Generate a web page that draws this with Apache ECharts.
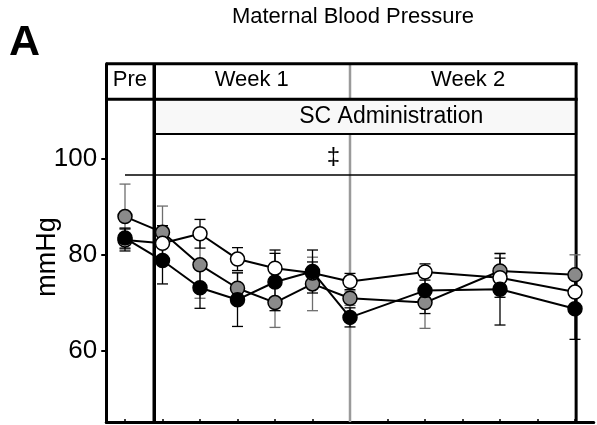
<!DOCTYPE html>
<html><head><meta charset="utf-8">
<script src="https://cdn.jsdelivr.net/npm/echarts@6/dist/echarts.min.js"></script>
<style>html,body{margin:0;padding:0;background:#fff}#c{width:597px;height:425px}</style>
</head><body><div id="c"></div>
<script>
// ---- data ----
const xPos = [0, 1, 2, 3, 4, 5, 6, 8, 10, 12];           // Pre, Week 1 days, Week 2 days
const grayVals  = [88.0, 84.7, 77.9, 73.0, 70.0, 73.9, 70.9, 70.0, 76.6, 75.8];
const grayErr   = [6.8, 5.5, 7.0, 3.3, 5.2, 5.6, 1.5, 5.4, 3.6, 4.2];
const whiteVals = [83.1, 82.4, 84.4, 79.1, 77.2, 76.2, 74.4, 76.4, 75.2, 72.2];
const whiteErr  = [2.3, 3.7, 3.0, 2.4, 3.8, 2.3, 1.7, 1.7, 4.1, 3.0];
const blackVals = [83.5, 78.8, 73.1, 70.6, 74.3, 76.5, 66.9, 72.5, 72.8, 68.7];
const blackErr  = [2.1, 4.9, 4.3, 5.6, 6.0, 4.5, 2.0, 4.8, 7.5, 6.4];
const yTicks = [60, 80, 100];
const xTicks = [0, 1, 2, 3, 4, 5, 6, 7, 8, 9, 10, 11, 12];
const sectionLabels = ['Pre', 'Week 1', 'Week 2'];
const treatmentLabel = 'SC Administration';
const sigMark = '\u2021';
const titleText = 'Maternal Blood Pressure';
const panelLabel = 'A';
const yName = 'mmHg';

// ---- chart ----
const FONT = '"Liberation Sans", Arial, Helvetica, sans-serif';
const chart = echarts.init(document.getElementById('c'), null, {renderer: 'canvas'});

function pts(vals) { return xPos.map((x, i) => [x, vals[i]]); }
function errData(vals, errs) { return xPos.map((x, i) => [x, vals[i] - errs[i], vals[i] + errs[i]]); }

function errSeries(name, vals, errs, color, z) {
  return {
    type: 'custom', name: name + ' SE', data: errData(vals, errs), z: z, clip: false, silent: true,
    encode: {x: 0, y: [1, 2]},
    renderItem(params, api) {
      const x = api.value(0);
      const lo = api.coord([x, api.value(1)]);
      const hi = api.coord([x, api.value(2)]);
      const w = 5.5;
      const st = {stroke: color, lineWidth: 1.3};
      return {type: 'group', children: [
        {type: 'line', shape: {x1: lo[0], y1: lo[1], x2: hi[0], y2: hi[1]}, style: st},
        {type: 'line', shape: {x1: lo[0] - w, y1: lo[1], x2: lo[0] + w, y2: lo[1]}, style: st},
        {type: 'line', shape: {x1: hi[0] - w, y1: hi[1], x2: hi[0] + w, y2: hi[1]}, style: st}
      ]};
    }
  };
}
function lineSeries(name, vals, fill, z) {
  return {
    type: 'line', name: name, data: pts(vals), z: z, symbol: 'circle', symbolSize: 14,
    itemStyle: {color: fill, borderColor: '#000', borderWidth: 1.5, opacity: 1},
    lineStyle: {color: '#000', width: 2}, emphasis: {disabled: true}, clip: false
  };
}

// header frame, in data coordinates
const H = {left: -0.5, preSep: 0.78, weekSep: 6, right: 12.03, top: 120, row1: 112.56, row2: 105.3, sigY: 96.7, sigX0: 0, bottom: 45};

const headerSeries = {
  type: 'custom', name: 'header', data: [[0, 0]], z: 1, clip: false, silent: true,
  renderItem(params, api) {
    const c = (x, y) => api.coord([x, y]);
    const line = (a, b, color, w) => ({type: 'line', shape: {x1: a[0], y1: a[1], x2: b[0], y2: b[1]}, style: {stroke: color, lineWidth: w}});
    const txt = (x, y, s, size) => {
      const p = c(x, y);
      return {type: 'text', x: p[0], y: p[1], style: {text: s, fill: '#000', font: size + 'px ' + FONT, textAlign: 'center', textVerticalAlign: 'middle', align: 'center', verticalAlign: 'middle'}};
    };
    const scTL = c(H.preSep, H.row1), scBR = c(H.right, H.row2);
    return {type: 'group', children: [
      line(c(H.weekSep, H.bottom), c(H.weekSep, H.top), '#9a9a9a', 2.5),
      {type: 'rect', shape: {x: scTL[0], y: scTL[1], width: scBR[0] - scTL[0], height: scBR[1] - scTL[1]}, style: {fill: '#f8f8f8', stroke: '#000', lineWidth: 2}},
      line(c(H.sigX0, H.sigY), c(H.right, H.sigY), '#000', 1.5),
      line(c(H.left, H.top), c(H.right + 0.04, H.top), '#000', 3),
      line(c(H.left, H.row1), c(H.right + 0.04, H.row1), '#000', 3),
      line(c(H.preSep, H.bottom), c(H.preSep, H.top), '#000', 3.5),
      line(c(H.right, H.bottom), c(H.right, H.top), '#000', 3),
      txt(0.13, 116.5, sectionLabels[0], 22),
      txt(3.38, 116.5, sectionLabels[1], 22),
      txt(9.15, 116.5, sectionLabels[2], 22),
      txt(7.1, 108.85, treatmentLabel, 23),
      txt(5.56, 100.3, sigMark, 24)
    ]};
  }
};

const option = {
  animation: false,
  backgroundColor: '#fff',
  title: {text: titleText, left: 348, top: 1, textAlign: 'center',
    textStyle: {fontFamily: FONT, fontSize: 22, fontWeight: 'normal', color: '#000'}},
  graphic: [
    {type: 'text', left: 9, top: 22, style: {text: panelLabel, font: 'bold 43px ' + FONT, fill: '#000'}},
    {type: 'text', x: 48, y: 257, rotation: Math.PI / 2,
      style: {text: yName, font: '27px ' + FONT, fill: '#000', textAlign: 'center', textVerticalAlign: 'middle', align: 'center', verticalAlign: 'middle'}}
  ],
  grid: {left: 106.25, right: 3.25, top: 63.7, bottom: 3, containLabel: false},
  xAxis: {
    type: 'value', min: -0.5, max: 12.5,
    axisLine: {show: true, onZero: false, lineStyle: {color: '#000', width: 3}},
    axisTick: {show: true, inside: true, length: 3, customValues: xTicks, lineStyle: {color: '#000', width: 1.5}},
    axisLabel: {show: false},
    splitLine: {show: false}
  },
  yAxis: {
    type: 'value', min: 45, max: 120,
    axisLine: {show: true, onZero: false, lineStyle: {color: '#000', width: 3}},
    axisTick: {show: true, length: 5, customValues: yTicks, lineStyle: {color: '#000', width: 2}},
    axisLabel: {customValues: yTicks, fontSize: 26, fontFamily: FONT, color: '#000', margin: 9},
    splitLine: {show: false}
  },
  series: [
    headerSeries,
    errSeries('Gray', grayVals, grayErr, '#6e6e6e', 3),
    errSeries('White', whiteVals, whiteErr, '#000', 3),
    errSeries('Black', blackVals, blackErr, '#000', 3),
    lineSeries('Gray', grayVals, '#8a8a8a', 4),
    lineSeries('White', whiteVals, '#ffffff', 5),
    lineSeries('Black', blackVals, '#000000', 6)
  ]
};
chart.setOption(option);
</script>
</body></html>
